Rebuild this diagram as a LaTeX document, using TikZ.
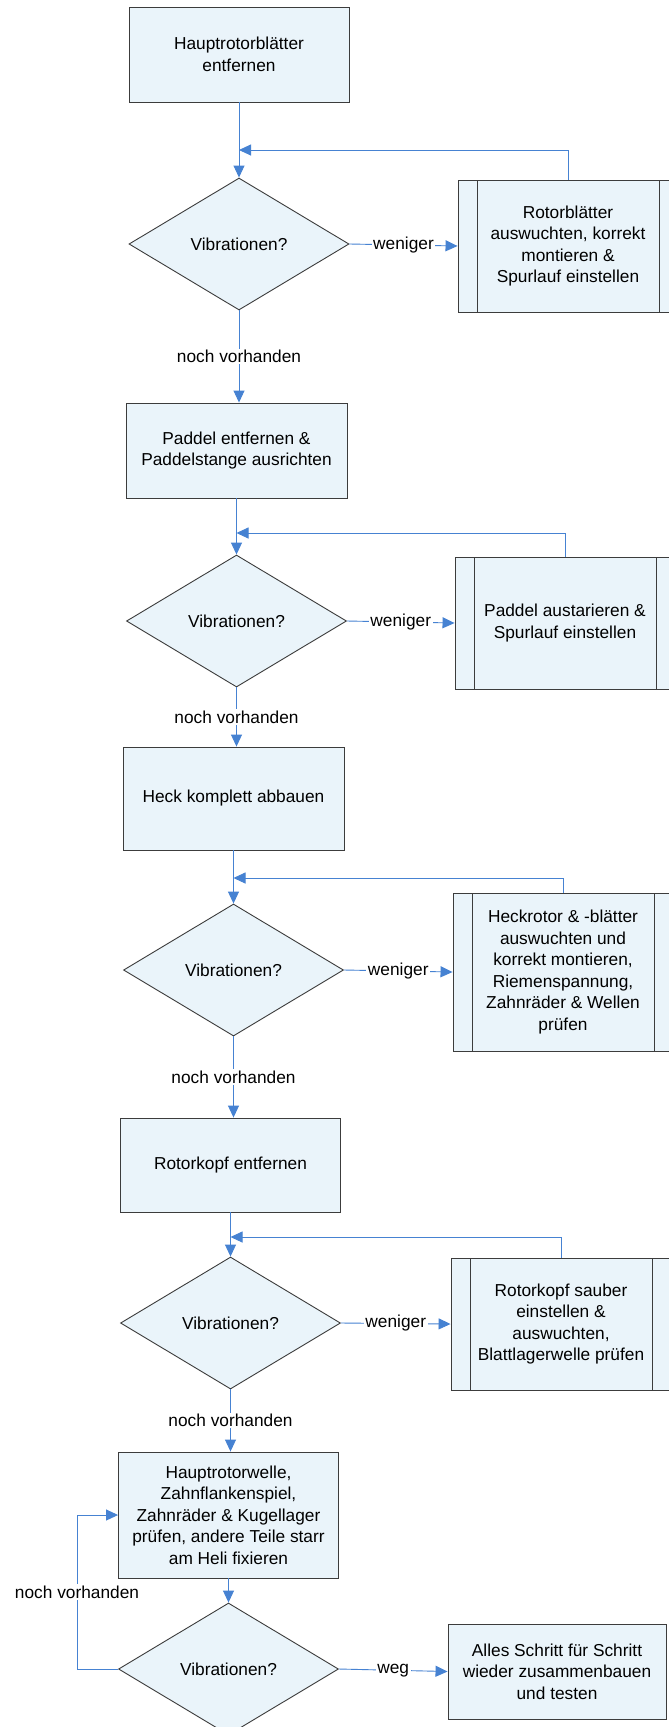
\documentclass[tikz,border=0pt]{standalone}
\usepackage{fontspec}
\setmainfont{Liberation Sans}
\usetikzlibrary{shapes.geometric,arrows.meta,calc}
\definecolor{boxfill}{RGB}{234,244,250}
\definecolor{boxline}{RGB}{60,60,60}
\definecolor{conncol}{RGB}{70,130,210}
\begin{document}
\begin{tikzpicture}[x=1pt,y=-1pt,
  every node/.style={font=\fontsize{17.3}{21.5}\selectfont},
  procbox/.style={draw=boxline, fill=boxfill, line width=0.9pt, rectangle, align=center, inner sep=0pt},
  decbox/.style={draw=boxline, fill=boxfill, line width=0.9pt, diamond, aspect=1.667,
    minimum width=220pt, minimum height=132pt, inner sep=0pt, align=center},
  subproc/.style={procbox, minimum width=220pt,
    path picture={
      \draw[boxline, line width=0.9pt] ([xshift=19pt]path picture bounding box.north west) -- ([xshift=19pt]path picture bounding box.south west);
      \draw[boxline, line width=0.9pt] ([xshift=-19pt]path picture bounding box.north east) -- ([xshift=-19pt]path picture bounding box.south east);
    }},
  conn/.style={draw=conncol, line width=0.9pt, -{Triangle[length=12pt,width=11pt]}},
  lab/.style={fill=white, inner sep=1.5pt}
]
\useasboundingbox (0,0) rectangle (669,1727);
\clip (0,0) rectangle (669,1727);
\fill[white] (0,0) rectangle (669,1727);

% Row 1
\node[procbox, minimum width=220pt, minimum height=95pt] (B1) at (239,54.5) {Hauptrotorblätter\\entfernen};
\node[decbox] (D1) at (239,244) {Vibrationen?};
\node[subproc, minimum height=132pt] (R1) at (568,246) {Rotorblätter\\auswuchten, korrekt\\montieren \&\\Spurlauf einstellen};
\coordinate (J1) at (239,150);

% Row 2
\node[procbox, minimum width=221pt, minimum height=95pt] (B2) at (236.5,450.5) {Paddel entfernen \&\\Paddelstange ausrichten};
\node[decbox] (D2) at (236.5,621) {Vibrationen?};
\node[subproc, minimum height=132pt] (R2) at (565,623) {Paddel austarieren \&\\Spurlauf einstellen};
\coordinate (J2) at (236.5,533);

% Row 3
\node[procbox, minimum width=221pt, minimum height=103pt] (B3) at (233.5,798.5) {Heck komplett abbauen};
\node[decbox] (D3) at (233.5,970) {Vibrationen?};
\node[subproc, minimum height=158pt] (R3) at (563,972) {Heckrotor \& -blätter\\auswuchten und\\korrekt montieren,\\Riemenspannung,\\Zahnräder \& Wellen\\prüfen};
\coordinate (J3) at (233.5,878);

% Row 4
\node[procbox, minimum width=220pt, minimum height=94pt] (B4) at (230.5,1165) {Rotorkopf entfernen};
\node[decbox] (D4) at (230.5,1323) {Vibrationen?};
\node[subproc, minimum height=132pt] (R4) at (561,1324) {Rotorkopf sauber\\einstellen \&\\auswuchten,\\Blattlagerwelle prüfen};
\coordinate (J4) at (230.5,1237);

% Row 5
\node[procbox, minimum width=220pt, minimum height=126pt] (B5) at (228.5,1515) {Hauptrotorwelle,\\Zahnflankenspiel,\\Zahnräder \& Kugellager\\prüfen, andere Teile starr\\am Heli fixieren};
\node[decbox] (D5) at (228.5,1669) {Vibrationen?};
\node[procbox, minimum width=218pt, minimum height=95pt] (B6) at (557,1671.5) {Alles Schritt für Schritt\\wieder zusammenbauen\\und testen};
\coordinate (L1) at (77,1669);
\coordinate (L2) at (77,1515);

% Connectors row 1
\draw[conn] (B1.south) -- (D1.north);
\draw[conn] (R1.north) |- (J1);
\draw[conn] (D1.east) -- node[lab]{weniger} (R1.west);
\draw[conn] (D1.south) -- node[lab]{noch vorhanden} (D1.south |- B2.north);

% Connectors row 2
\draw[conn] (B2.south) -- (D2.north);
\draw[conn] (R2.north) |- (J2);
\draw[conn] (D2.east) -- node[lab]{weniger} (R2.west);
\draw[conn] (D2.south) -- node[lab]{noch vorhanden} (D2.south |- B3.north);

% Connectors row 3
\draw[conn] (B3.south) -- (D3.north);
\draw[conn] (R3.north) |- (J3);
\draw[conn] (D3.east) -- node[lab]{weniger} (R3.west);
\draw[conn] (D3.south) -- node[lab]{noch vorhanden} (D3.south |- B4.north);

% Connectors row 4
\draw[conn] (B4.south) -- (D4.north);
\draw[conn] (R4.north) |- (J4);
\draw[conn] (D4.east) -- node[lab]{weniger} (R4.west);
\draw[conn] (D4.south) -- node[lab]{noch vorhanden} (D4.south |- B5.north);

% Connectors row 5
\draw[conn] (B5.south) -- (D5.north);
\draw[conn] (D5.east) -- node[lab]{weg} (B6.west);
\draw[conn] (D5.west) -- (L1) -- node[lab]{noch vorhanden} (L2) -- (B5.west);
\end{tikzpicture}
\end{document}
